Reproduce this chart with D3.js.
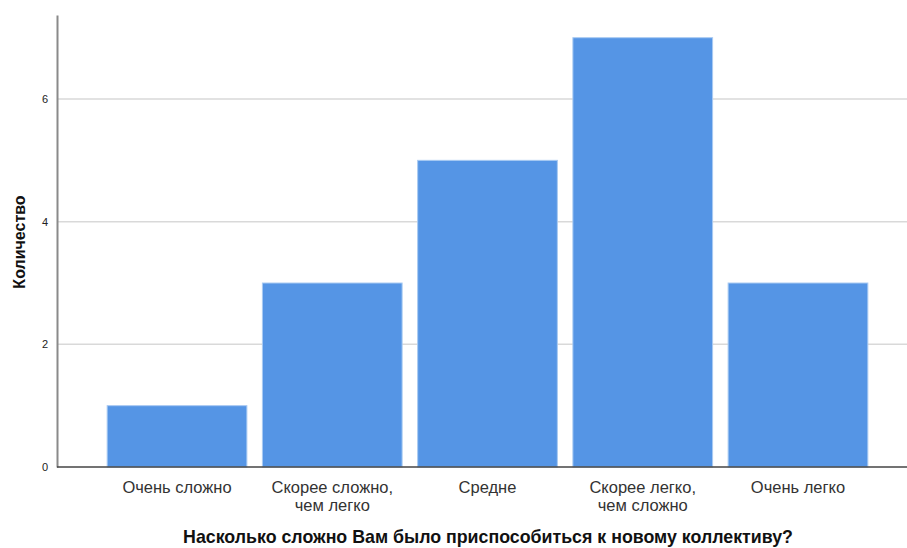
<!DOCTYPE html>
<html><head><meta charset="utf-8">
<script src="https://cdn.jsdelivr.net/npm/d3@7"></script>
<style>body{margin:0;background:#fff}svg{display:block;font-family:"Liberation Sans",Arial,sans-serif}</style>
</head><body><svg id="c" width="907" height="548"></svg>
<script>
const categories = [["Очень сложно"],["Скорее сложно,","чем легко"],["Средне"],["Скорее легко,","чем сложно"],["Очень легко"]];
const counts = [1,3,5,7,3];
const yTicks = [0,2,4,6];
const xTitle = "Насколько сложно Вам было приспособиться к новому коллективу?";
const yTitle = "Количество";

(function(){
const svg = d3.select("#c");
const pL = 57, pR = 907, pT = 15, pB = 467;
const keys = categories.map((d,i)=>i);
const x = d3.scaleBand().domain(keys).range([99.4, 875.6]).paddingInner(0.1).paddingOuter(0.05);
const y = d3.scaleLinear().domain([0, 7.37]).range([pB, pT]);

// gridlines
svg.append("g").selectAll("line").data(yTicks.filter(d=>d>0)).join("line")
  .attr("x1", pL).attr("x2", pR)
  .attr("y1", d=>y(d)).attr("y2", d=>y(d))
  .attr("stroke", "#d9d9d9").attr("stroke-width", 1.5);

// bars
svg.append("g").selectAll("rect").data(counts).join("rect")
  .attr("x", (d,i)=>x(i)).attr("width", x.bandwidth())
  .attr("y", d=>y(d)).attr("height", d=>pB - y(d))
  .attr("fill", "#5595e5").attr("stroke", "#a9caf2").attr("stroke-width", 1);

// y axis
const ya = svg.append("g").attr("transform", `translate(${pL},0)`)
  .call(d3.axisLeft(y).tickValues(yTicks).tickSize(0).tickPadding(9).tickFormat(d3.format("d")));
ya.select(".domain").attr("stroke", "#8a8a8a").attr("stroke-width", 2);
ya.selectAll("text").attr("font-size", 11).attr("fill", "#222").attr("font-family", "Liberation Sans, Arial, sans-serif");

// x axis baseline
svg.append("line").attr("x1", pL).attr("x2", pR).attr("y1", pB).attr("y2", pB)
  .attr("stroke", "#444").attr("stroke-width", 1.5);

// category labels
const lab = svg.append("g").selectAll("text").data(categories).join("text")
  .attr("x", (d,i)=>x(i)+x.bandwidth()/2).attr("y", 493)
  .attr("text-anchor", "middle").attr("font-size", 16.5).attr("fill", "#333");
lab.each(function(d){
  const tx = d3.select(this).attr("x");
  d3.select(this).selectAll("tspan").data(d).join("tspan")
    .attr("x", tx).attr("dy", (t,j)=>j? 17.5 : 0).text(t=>t);
});

// titles
svg.append("text").attr("x", 488).attr("y", 543).attr("text-anchor", "middle")
  .attr("font-size", 17.8).attr("font-weight", "bold").attr("fill", "#111").text(xTitle);
svg.append("text").attr("transform", "translate(25,242) rotate(-90)").attr("text-anchor", "middle")
  .attr("font-size", 16).attr("font-weight", "bold").attr("fill", "#111").text(yTitle);
})();
</script></body></html>
